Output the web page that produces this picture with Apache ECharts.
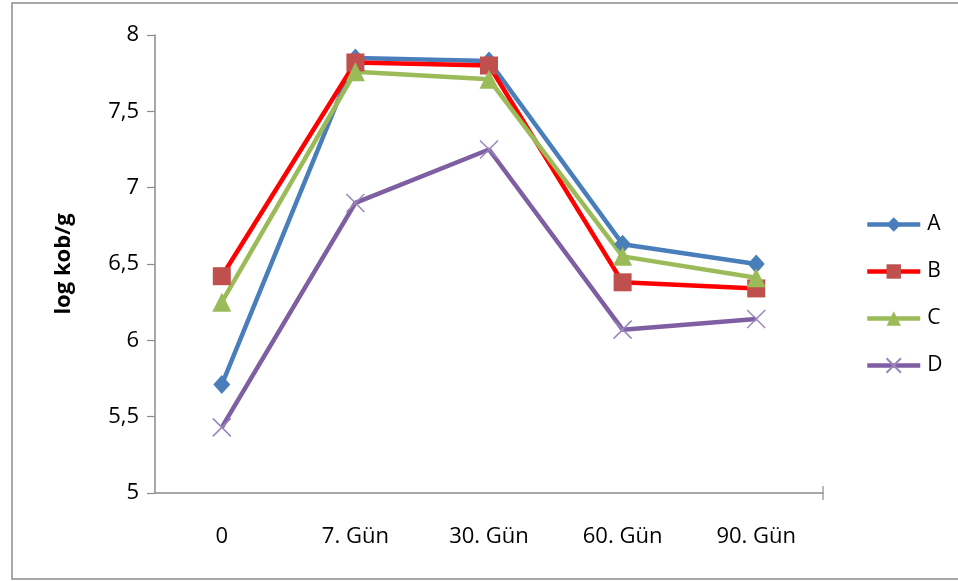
<!DOCTYPE html>
<html>
<head>
<meta charset="utf-8">
<script src="https://cdn.jsdelivr.net/npm/echarts@6/dist/echarts.min.js"></script>
<style>html,body{margin:0;padding:0;background:#fff;}#c{width:958px;height:581px;}</style>
</head>
<body>
<div id="c"></div>
<script>
const categories = ['0', '7. Gün', '30. Gün', '60. Gün', '90. Gün'];
const seriesA = [5.71, 7.85, 7.83, 6.63, 6.50];
const seriesB = [6.42, 7.82, 7.80, 6.38, 6.34];
const seriesC = [6.25, 7.76, 7.71, 6.55, 6.41];
const seriesD = [5.43, 6.90, 7.25, 6.07, 6.14];
const yTicks = [5, 5.5, 6, 6.5, 7, 7.5, 8];

const FONT = 'Open Sans';
const chart = echarts.init(document.getElementById('c'), null, {renderer: 'canvas'});

function mk(name, data, lineColor, markColor, symbol, size, extraItem) {
  return {
    name: name, type: 'line', data: data,
    symbol: symbol, symbolSize: size,
    lineStyle: {color: lineColor, width: 4.5},
    itemStyle: Object.assign({color: markColor}, extraItem || {}),
    emphasis: {disabled: true},
    animation: false
  };
}

chart.setOption({
  backgroundColor: '#fff',
  animation: false,
  grid: {left: 155, right: 135, top: 35, bottom: 88},
  legend: {
    orient: 'vertical', left: 860, top: 209,
    itemWidth: 53, itemHeight: 18, itemGap: 26,
    lineStyle: {width: 4.5},
    textStyle: {fontFamily: FONT, fontSize: 21, lineHeight: 18, color: '#000', padding: [0, 0, 0, 2]},
    data: ['A', 'B', 'C', 'D']
  },
  xAxis: [{
    type: 'category', data: categories, boundaryGap: true,
    axisLine: {lineStyle: {color: '#8c8c8c', width: 1.5}},
    axisTick: {alignWithLabel: true, length: 7, lineStyle: {color: '#8c8c8c', width: 1.2}},
    axisLabel: {fontFamily: FONT, fontSize: 22, color: '#000', margin: 33}
  }, {
    type: 'category', data: categories, boundaryGap: true, position: 'bottom',
    axisLine: {show: false},
    axisTick: {inside: true, alignWithLabel: true, length: 7, lineStyle: {color: '#8c8c8c', width: 1.2}},
    axisLabel: {show: false}
  }],
  yAxis: {
    type: 'value', min: yTicks[0], max: yTicks[yTicks.length - 1], interval: 0.5,
    name: 'log kob/g', nameLocation: 'middle', nameGap: 80,
    nameTextStyle: {fontFamily: FONT, fontSize: 22, fontWeight: 'bold', color: '#000'},
    splitLine: {show: false},
    axisLine: {show: true, lineStyle: {color: '#8c8c8c', width: 1.5}},
    axisTick: {show: true, length: 8, lineStyle: {color: '#8c8c8c', width: 1.2}},
    axisLabel: {fontFamily: FONT, fontSize: 22, color: '#000', margin: 16,
      formatter: v => String(v).replace('.', ',')}
  },
  series: [
    mk('A', seriesA, '#4A7EBB', '#4A7EBB', 'diamond', [17, 19]),
    mk('B', seriesB, '#FF0000', '#C0504D', 'rect', 18),
    mk('C', seriesC, '#9BBB59', '#9BBB59', 'triangle', 19),
    mk('D', seriesD, '#7E5FA1', '#8064A2', 'path://M0,0L10,10M10,0L0,10', 18,
      {borderColor: '#9a86bd', borderWidth: 1.5, color: 'transparent'})
  ],
  graphic: [{
    type: 'rect', shape: {x: 12, y: 3, width: 980, height: 576},
    style: {fill: 'none', stroke: '#8c8c8c', lineWidth: 1.5}, silent: true, z: -1
  }]
});

// end tick at right end of category axis
const xEnd = chart.convertToPixel({xAxisIndex: 0}, categories[categories.length - 1]);
const yBase = chart.convertToPixel({yAxisIndex: 0}, yTicks[0]);
const half = (chart.convertToPixel({xAxisIndex: 0}, categories[1]) - chart.convertToPixel({xAxisIndex: 0}, categories[0])) / 2;
chart.setOption({graphic: [{}, {
  type: 'line', shape: {x1: xEnd + half, y1: yBase - 7, x2: xEnd + half, y2: yBase + 7},
  style: {stroke: '#8c8c8c', lineWidth: 1.2}, silent: true
}]});
</script>
</body>
</html>
